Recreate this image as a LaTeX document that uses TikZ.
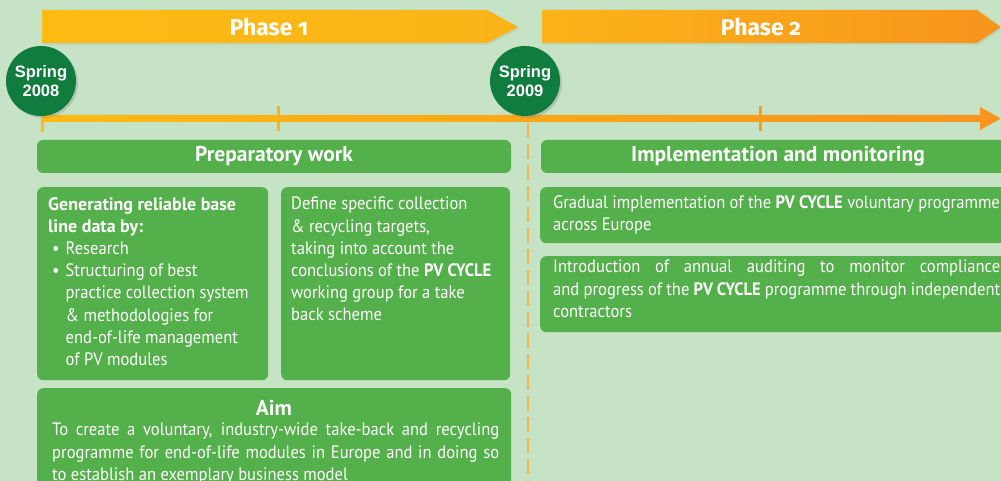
\documentclass[tikz,border=0pt]{standalone}
\usepackage{fontspec}
\setmainfont[FakeStretch=0.92]{PT Sans}
\newfontfamily\hdrfont{PT Sans}
\newfontfamily\phasefont[Numbers=OldStyle]{Fira Sans}
\newfontfamily\springfont{Liberation Sans}
\usetikzlibrary{shadows,calc}
\newcommand\nohyphx{\hyphenpenalty=10000\relax\exhyphenpenalty=10000\relax}
\definecolor{bg}{RGB}{198,227,198}
\definecolor{boxgreen}{RGB}{84,176,74}
\definecolor{circgreen}{RGB}{16,125,62}
\definecolor{yel}{RGB}{253,187,20}
\definecolor{yel2}{RGB}{251,180,24}
\definecolor{org}{RGB}{247,148,29}
\definecolor{dashc}{RGB}{242,182,80}
\begin{document}
\begin{tikzpicture}[x=1pt,y=-1pt,
  body/.style={font=\fontsize{18}{22.2}\selectfont\nohyphx, text=white, inner sep=0pt, anchor=north west, align=left},
  gbox/.style={fill=boxgreen, rounded corners=6pt, draw=none, inner sep=0pt},
  hdr/.style={font=\hdrfont\bfseries\fontsize{21.5}{24}\selectfont, text=white},
  phase/.style={font=\phasefont\bfseries\fontsize{23}{26}\selectfont, text=white, inner sep=0pt},
  springc/.style={circle, fill=circgreen, minimum size=70pt, inner sep=0pt, text=white, align=center,
    font=\springfont\bfseries\fontsize{16.5}{19}\selectfont,
    drop shadow={opacity=0.3, shadow xshift=2pt, shadow yshift=-2pt}},
  arrowshadow/.style={drop shadow={opacity=0.15, shadow xshift=1pt, shadow yshift=-2pt}},
]
\useasboundingbox (0,0) rectangle (1001,481);
\clip (0,0) rectangle (1001,481);
\fill[bg] (0,0) rectangle (1001,481);

% phase arrows
\shade[left color=yel, right color=yel2, arrowshadow] (42,10) -- (487,10) -- (518,27) -- (487,43) -- (42,43) -- cycle;
\shade[left color=yel2, right color=org, arrowshadow] (542,10) -- (977,10) -- (1001,27) -- (977,43) -- (542,43) -- cycle;
\node[phase] (p1) at (269,27) {Phase 1};
\node[phase] (p2) at (761,27) {Phase 2};

% timeline
\shade[left color=yel, right color=org] (42,115) -- (980,115) -- (980,107) -- (1001,118.5) -- (980,130) -- (980,122) -- (42,122) -- cycle;
\fill[yel] (40.5,115) rectangle (43.5,132);
\fill[yel!80!org] (276.5,106) rectangle (279.5,131);
\fill[org!75!yel] (758.5,106) rectangle (761.5,131);

% dashed separator
\coordinate (dtop) at (528,123);
\coordinate (dbot) at (528,481);
\draw[dashc, line width=2pt, dash pattern=on 15pt off 6pt] (dtop) -- (dbot);

% milestones
\node[springc] (s1) at (41,81) {Spring\\2008};
\node[springc] (s2) at (525,81) {Spring\\2009};

% header boxes
\node[gbox, hdr, minimum width=474pt, minimum height=33pt] (prep) at (274,156.5) {Preparatory work};
\node[gbox, hdr, minimum width=474pt, minimum height=33pt] (impl) at (778,156.5) {Implementation and monitoring};

% left content boxes
\node[gbox, minimum width=231pt, minimum height=193pt, anchor=north west] (boxA) at (37,187) {};
\node[gbox, minimum width=229pt, minimum height=193pt, anchor=north west] (boxB) at (281,187) {};
\node[gbox, minimum width=474pt, minimum height=120pt, anchor=north west] (aimbox) at (37,388) {};

\node[body] (ta) at (48,197) {{\hdrfont\bfseries Generating reliable base}\\{\hdrfont\bfseries line data by:}\\
\hspace*{4pt}\makebox[13.5pt][l]{\textbullet}Research\\
\hspace*{4pt}\makebox[13.5pt][l]{\textbullet}Structuring of best\\
\hspace*{17.5pt}practice collection system\\
\hspace*{17.5pt}\& methodologies for\\
\hspace*{17.5pt}end-of-life management\\
\hspace*{17.5pt}of PV modules};

\node[body] (tb) at (291,197) {Define specific collection\\\& recycling targets,\\taking into account the\\conclusions of the \textbf{PV CYCLE}\\working group for a take\\back scheme};

\node[hdr, inner sep=0pt] (aimt) at (274,407.5) {Aim};
\node[body, text width=447pt, align=justify] (aimb) at (52,423) {To create a voluntary, industry-wide take-back and recycling\linebreak programme for end-of-life modules in Europe and in doing so\linebreak to establish an exemplary business model};

% right content boxes
\node[gbox, minimum width=475pt, minimum height=56pt, anchor=north west] (boxC) at (540,187) {};
\node[gbox, minimum width=475pt, minimum height=76pt, anchor=north west] (boxD) at (540,256) {};

\node[body] (tc) at (553,195) {Gradual implementation of the \textbf{PV CYCLE} voluntary programme\\across Europe};
\node[body, text width=447pt, align=justify] (td) at (553,260) {Introduction of annual auditing to monitor compliance\linebreak and progress of the \textbf{PV CYCLE} programme through independent\linebreak contractors};
\end{tikzpicture}
\end{document}
